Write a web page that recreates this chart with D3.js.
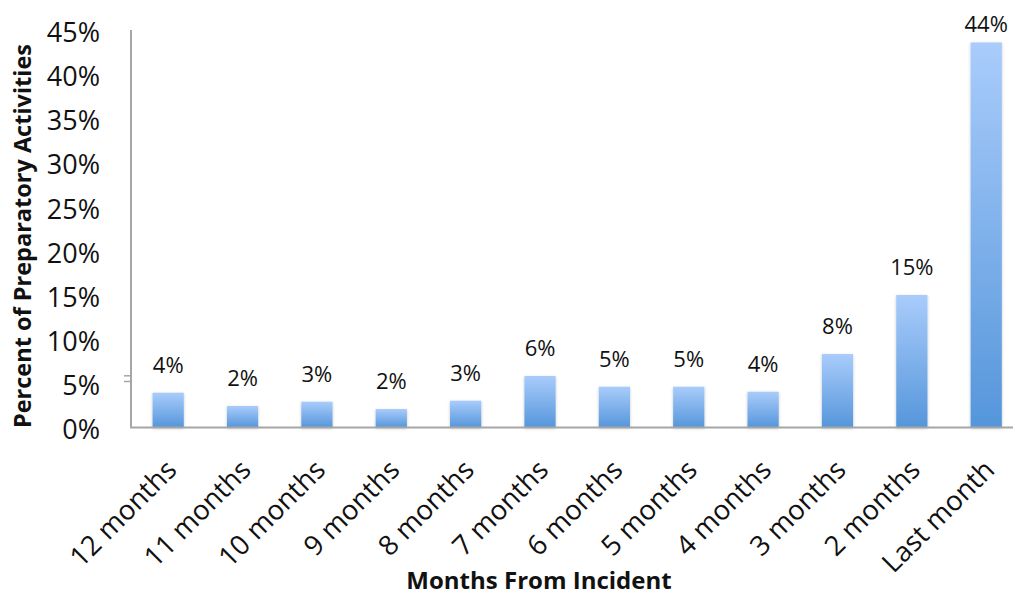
<!DOCTYPE html>
<html>
<head>
<meta charset="utf-8">
<script src="https://cdn.jsdelivr.net/npm/d3@7"></script>
<style>
  html, body { margin: 0; padding: 0; background: #ffffff; }
  svg { display: block; }
</style>
</head>
<body>
<svg id="chart" width="1013" height="595"></svg>
<script>
// Share of preparatory activities by months before the incident
const categories = ["12 months", "11 months", "10 months", "9 months", "8 months", "7 months",
                    "6 months", "5 months", "4 months", "3 months", "2 months", "Last month"];
const percentValues = [3.95, 2.44, 2.93, 2.1, 3.04, 5.85, 4.63, 4.63, 4.06, 8.34, 15.04, 43.7];
const yTickValues = [0, 5, 10, 15, 20, 25, 30, 35, 40, 45];
const yAxisTitle = "Percent of Preparatory Activities";
const xAxisTitle = "Months From Incident";

const svg = d3.select("#chart");
const font = "'Open Sans', sans-serif";

const x = d3.scaleBand()
  .domain(categories)
  .range([131, 1023.4])
  .paddingInner(0.58)
  .paddingOuter(0.29);

const y = d3.scaleLinear()
  .domain([0, 45])
  .range([427.5, 31]);

// Bar fill: light blue at top fading to a deeper blue at the base
const defs = svg.append("defs");
const grad = defs.append("linearGradient")
  .attr("id", "barFill")
  .attr("x1", 0).attr("y1", 0).attr("x2", 0).attr("y2", 1);
grad.append("stop").attr("offset", "0%").attr("stop-color", "#a9ccfb");
grad.append("stop").attr("offset", "100%").attr("stop-color", "#5596db");

const shadow = defs.append("filter")
  .attr("id", "barShadow")
  .attr("x", "-40%").attr("y", "-10%").attr("width", "180%").attr("height", "130%");
shadow.append("feDropShadow")
  .attr("dx", 0).attr("dy", 1)
  .attr("stdDeviation", 1.6)
  .attr("flood-color", "#000")
  .attr("flood-opacity", 0.22);

// Bars
svg.append("g")
  .selectAll("rect")
  .data(percentValues)
  .join("rect")
  .attr("x", (d, i) => x(categories[i]))
  .attr("width", x.bandwidth())
  .attr("y", d => y(d))
  .attr("height", d => y(0) - y(d))
  .attr("fill", "url(#barFill)")
  .attr("filter", "url(#barShadow)");

// Value labels above the bars
svg.append("g")
  .selectAll("text")
  .data(percentValues)
  .join("text")
  .attr("x", (d, i) => x(categories[i]) + x.bandwidth() / 2)
  .attr("y", d => Math.max(y(d) - 20, 31.5))
  .attr("text-anchor", "middle")
  .attr("font-family", font)
  .attr("font-size", 22)
  .attr("fill", "#111")
  .text(d => Math.round(d) + "%");

// Y axis
const yAxis = d3.axisLeft(y)
  .tickValues(yTickValues)
  .tickSize(0)
  .tickPadding(0)
  .tickFormat(d => d + "%");

const yg = svg.append("g")
  .attr("transform", "translate(131,0)")
  .call(yAxis);
yg.select(".domain").attr("stroke", "#a6a6a6").attr("stroke-width", 2)
  .attr("d", `M0,${y(0)}V${y(45) - 1}`);
yg.selectAll(".tick text")
  .attr("x", -31)
  .attr("dy", "0.4em")
  .attr("font-family", font)
  .attr("font-size", 27)
  .attr("fill", "#111");

// small break marks on the value axis
svg.append("g")
  .attr("stroke", "#a6a6a6")
  .attr("stroke-width", 1.5)
  .selectAll("line")
  .data([375.8, 381.5])
  .join("line")
  .attr("x1", 124).attr("x2", 131)
  .attr("y1", d => d).attr("y2", d => d);

// X axis
const xAxis = d3.axisBottom(x).tickSize(0).tickPadding(0);
const xg = svg.append("g")
  .attr("transform", `translate(0,${y(0)})`)
  .call(xAxis);
xg.select(".domain").attr("stroke", "#a6a6a6").attr("stroke-width", 2)
  .attr("d", `M130,0H1013`);
xg.selectAll(".tick text")
  .attr("font-family", font)
  .attr("font-size", 27.5)
  .attr("fill", "#111")
  .attr("text-anchor", "end")
  .attr("dy", 0)
  .attr("y", 0)
  .attr("transform", "translate(10,44) rotate(-45)");

// Axis titles
svg.append("text")
  .attr("transform", "translate(31,236) rotate(-90)")
  .attr("text-anchor", "middle")
  .attr("font-family", font)
  .attr("font-weight", "bold")
  .attr("font-size", 23.5)
  .attr("fill", "#111")
  .text(yAxisTitle);

svg.append("text")
  .attr("x", 539)
  .attr("y", 589)
  .attr("text-anchor", "middle")
  .attr("font-family", font)
  .attr("font-weight", "bold")
  .attr("font-size", 24)
  .attr("fill", "#111")
  .text(xAxisTitle);
</script>
</body>
</html>
